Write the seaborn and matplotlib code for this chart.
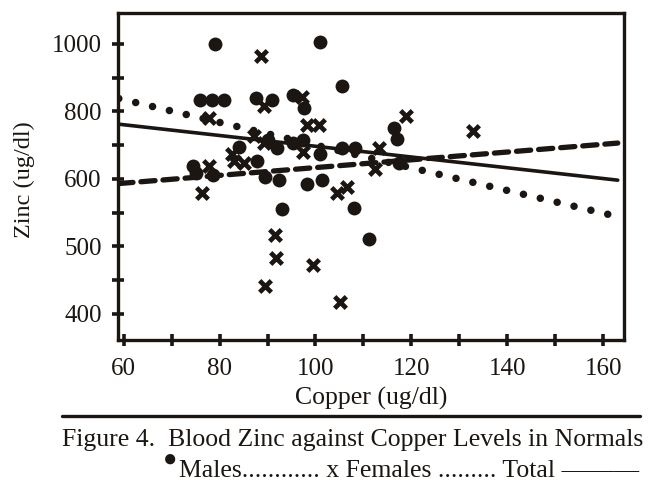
"""
Figure 4 - Blood zinc against copper levels in normals
Scatter of males (dots) and females (crosses) with the three regression
lines, redrawn in the look of the scanned journal figure.
"""

import matplotlib
matplotlib.use("Agg")
import matplotlib.pyplot as plt
from matplotlib.lines import Line2D
import numpy as np
import pandas as pd
import seaborn as sns

INK = "#1b1612"

### Data
male_copper = [79, 101, 105.5, 76, 78.5, 81, 87.7, 91, 95.4, 97.6, 116.4, 117,
               84, 87.8, 74.5, 75, 78.7, 89.5, 92.4, 98.2, 101.3, 93, 108,
               111.1, 92, 95.4, 97.5, 101, 105.6, 108.3, 117.5, 90]
male_zinc = [1000, 1005, 875, 835, 835, 835, 840, 833, 848, 810, 752, 717,
             693, 654, 638, 617, 612, 604, 598, 592, 598, 556, 557,
             511, 691, 706, 715, 673, 692, 692, 648, 714]

female_copper = [88.6, 89.2, 97.1, 98.3, 100.8, 118.8, 132.9, 77.9, 77.7,
                 76.3, 82.5, 83.1, 85.2, 87.2, 89.2, 97.5, 113.2, 112.3,
                 104.4, 106.6, 91.6, 91.8, 89.4, 99.5, 105.2]
female_zinc = [964, 815, 842, 760, 760, 785, 742, 779, 639,
               579, 675, 654, 648, 728, 705, 679, 692, 630,
               579, 588, 516, 483, 441, 472, 418]

# regression lines (end points)
line_copper = [59, 163]
male_line = [838, 544]
female_line = [593, 706]
total_line = [762, 598]

x_ticks = [60, 80, 100, 120, 140, 160]
x_minor = [70, 90, 110, 130, 150]
y_ticks = [400, 500, 600, 800, 1000]
y_minor = [450, 550, 700, 900]

# the printed zinc axis is not linear: equal steps between these labels
Y_KNOTS = np.array([400.0, 500.0, 600.0, 800.0, 1000.0])
U_KNOTS = np.arange(len(Y_KNOTS), dtype=float)


def zinc_fwd(v):
    v = np.asarray(v, dtype=float)
    u = np.interp(v, Y_KNOTS, U_KNOTS)
    u = np.where(v < Y_KNOTS[0], (v - 400.0) / 100.0, u)
    u = np.where(v > Y_KNOTS[-1], 4.0 + (v - 1000.0) / 200.0, u)
    return u


def zinc_inv(u):
    u = np.asarray(u, dtype=float)
    v = np.interp(u, U_KNOTS, Y_KNOTS)
    v = np.where(u < 0, 400.0 + u * 100.0, v)
    v = np.where(u > 4, 1000.0 + (u - 4.0) * 200.0, v)
    return v


def style():
    sns.set_theme(style="white")
    plt.rcParams.update({
        "font.family": ["Liberation Serif", "DejaVu Serif"],
        "axes.edgecolor": INK,
        "axes.linewidth": 2.4,
        "text.color": INK,
        "xtick.color": INK,
        "ytick.color": INK,
        "axes.labelcolor": INK,
        "xtick.bottom": True,
        "ytick.left": True,
    })


def main():
    style()
    fig = plt.figure(figsize=(6.5, 4.95), dpi=100)
    ax = fig.add_axes([0.182, 0.313, 0.778, 0.661])

    males = pd.DataFrame({"copper": male_copper, "zinc": male_zinc})
    females = pd.DataFrame({"copper": female_copper, "zinc": female_zinc})
    lines = pd.DataFrame({"copper": line_copper, "male": male_line,
                          "female": female_line, "total": total_line})

    ax.set_yscale("function", functions=(zinc_fwd, zinc_inv))

    ### Regression lines
    sns.lineplot(data=lines, x="copper", y="male", ax=ax, color=INK,
                 linewidth=5.4, linestyle=(0, (0.01, 2.3)),
                 dash_capstyle="round", estimator=None)
    sns.lineplot(data=lines, x="copper", y="female", ax=ax, color=INK,
                 linewidth=3.8, linestyle=(0, (2.7, 1.5)),
                 dash_capstyle="round", estimator=None)
    sns.lineplot(data=lines, x="copper", y="total", ax=ax, color=INK,
                 linewidth=2.6, estimator=None)

    ### Points
    sns.scatterplot(data=males, x="copper", y="zinc", ax=ax, marker="o",
                    s=100, color=INK, edgecolor=INK, linewidth=0, zorder=4)
    sns.scatterplot(data=females, x="copper", y="zinc", ax=ax, marker="x",
                    s=70, color=INK, linewidth=3.4, zorder=4)

    ax.set_xlim(58.9, 164.3)
    ax.set_ylim(361, 1092)
    ax.set_xticks(x_ticks)
    ax.set_xticks(x_minor, minor=True)
    ax.set_yticks(y_ticks)
    ax.set_yticks(y_minor, minor=True)
    ax.set_yticklabels([str(t) for t in y_ticks])
    ax.tick_params(which="both", direction="inout", length=8, width=2.6,
                   labelsize=18, bottom=True, left=True)
    ax.tick_params(axis="x", pad=9)
    ax.tick_params(axis="y", pad=8)

    ax.set_xlabel("Copper (ug/dl)", fontsize=18.5, labelpad=5)
    ax.set_ylabel("Zinc (ug/dl)", fontsize=17.5)
    ax.yaxis.set_label_coords(-0.165, 0.49)

    ### Caption under the chart
    fig.add_artist(Line2D([0.095, 0.985], [0.160, 0.160],
                          transform=fig.transFigure, color=INK, linewidth=2.4))
    fig.text(0.095, 0.111, "Figure 4.  Blood Zinc against Copper Levels in Normals",
             fontsize=18.5, ha="left", va="center")
    fig.text(0.262, 0.070, "\u25cf", fontsize=17, ha="center", va="center")
    fig.text(0.276, 0.048,
             "Males............ x Females ......... Total \u2014\u2014\u2014",
             fontsize=18.5, ha="left", va="center")

    fig.savefig("out.png", dpi=100, facecolor="white")
    plt.close(fig)


if __name__ == "__main__":
    main()
